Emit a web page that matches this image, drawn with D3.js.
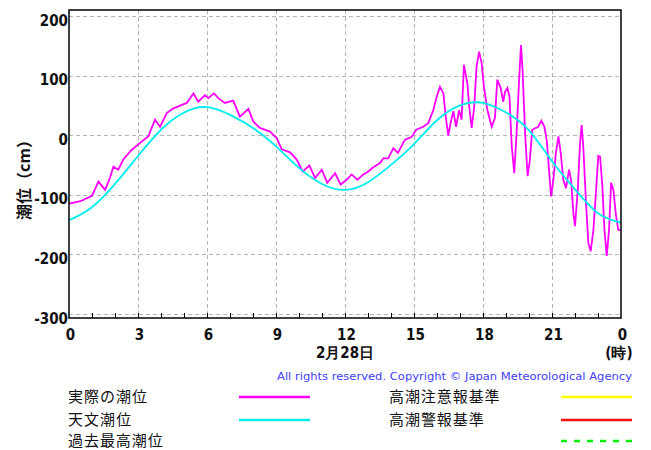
<!DOCTYPE html>
<html>
<head>
<meta charset="utf-8">
<script src="https://cdn.jsdelivr.net/npm/d3@7"></script>
<style>
body { margin: 0; background: #fff; }
.num { font-family: "DejaVu Sans Condensed", "Liberation Sans Narrow", "DejaVu Sans", sans-serif; font-weight: bold; font-size: 15px; fill: #111; }
.jp { font-family: "Noto Sans CJK JP", sans-serif; fill: #111; }
</style>
</head>
<body>
<svg width="651" height="450"></svg>
<script>
// astronomical tide (天文潮位), hourly
const tideHour = [0,1,2,3,4,5,6,7,8,9,10,11,12,13,14,15,16,17,18,19,20,21,22,23,24];
const tideLevel = [-143,-121,-82,-35,9,38,47,34,12,-19,-55,-82,-92,-79,-50,-15,25,50,54,38,8,-44,-91,-131,-147];

const obsHour = [0,0.5,1,1.28,1.57,1.78,1.93,2.14,2.36,2.72,3.09,3.45,3.74,3.96,4.25,4.54,5.12,5.41,5.62,5.91,6.06,6.3,6.49,6.78,7.14,7.43,7.8,8.01,8.3,8.74,9.03,9.25,9.61,9.9,10.16,10.45,10.7,10.99,11.23,11.57,11.81,12.07,12.29,12.54,12.8,13.01,13.23,13.52,13.67,13.88,14.1,14.3,14.6,14.9,15.1,15.4,15.62,15.84,15.99,16.13,16.28,16.38,16.49,16.59,16.71,16.83,16.96,17.07,17.17,17.32,17.4,17.51,17.62,17.72,17.83,17.94,18.04,18.19,18.38,18.52,18.62,18.77,18.88,18.96,19.06,19.15,19.25,19.36,19.46,19.57,19.65,19.72,19.83,19.94,20.04,20.14,20.25,20.4,20.54,20.67,20.77,20.87,20.96,21.06,21.17,21.28,21.38,21.49,21.61,21.74,21.83,21.93,22,22.12,22.22,22.29,22.36,22.48,22.58,22.68,22.8,22.9,23.01,23.09,23.19,23.28,23.38,23.48,23.57,23.67,23.77,23.88,24];
const obsLevel = [-115,-111,-102,-78,-92,-72,-53,-58,-41,-25,-13,-2,26,14,37,45,54,70,56,67,62,70,62,54,58,31,44,23,12,6,-5,-24,-29,-41,-61,-51,-72,-58,-80,-64,-83,-75,-66,-75,-66,-61,-54,-47,-39,-39,-22,-30,-8,-3,9,14,20,42,65,81,70,31,-1,20,40,14,42,26,118,87,48,12,48,115,140,121,81,42,14,29,93,79,56,73,79,65,-19,-64,3,93,151,109,3,-69,-41,9,11,14,24,14,-8,-58,-103,-75,-30,-2,-30,-75,-89,-58,-75,-131,-153,-92,-13,17,-19,-114,-181,-195,-159,-103,-35,-36,-86,-159,-203,-159,-80,-92,-131,-159,-160];

const yTicks = [-300,-200,-100,0,100,200];
const xTicks = [0,3,6,9,12,15,18,21,24];
const xLabels = ['0','3','6','9','12','15','18','21','0'];

const legendNames = ['実際の潮位','天文潮位','過去最高潮位','高潮注意報基準','高潮警報基準',''];
const legendColors = ['#ff00ff','#00eeee',null,'#ffff00','#ff1010','#00ee00'];

const svg = d3.select('svg');
const x = d3.scaleLinear().domain([0, 24]).range([69, 621]);
const y = d3.scaleLinear().domain([-307, 210]).range([318, 10]);

// dashed grid
const grid = svg.append('g').attr('stroke', '#b4b4b4').attr('stroke-dasharray', '4,3').attr('stroke-width', 1);
grid.selectAll('line.h').data(yTicks).enter().append('line').attr('class', 'h')
    .attr('x1', x(0)).attr('x2', x(24))
    .attr('y1', d => Math.round(y(d)) + 0.5).attr('y2', d => Math.round(y(d)) + 0.5);
grid.selectAll('line.v').data(xTicks.slice(1, -1)).enter().append('line').attr('class', 'v')
    .attr('x1', d => Math.round(x(d)) + 0.5).attr('x2', d => Math.round(x(d)) + 0.5)
    .attr('y1', y.range()[1]).attr('y2', y.range()[0]);

// hourly minor ticks on the bottom edge
svg.append('g').attr('stroke', '#000').selectAll('line').data(d3.range(1, 24)).enter().append('line')
    .attr('x1', d => Math.round(x(d)) + 0.5).attr('x2', d => Math.round(x(d)) + 0.5)
    .attr('y1', 318).attr('y2', 313);

// curves
svg.append('clipPath').attr('id', 'plot').append('rect')
    .attr('x', 69).attr('y', 10).attr('width', 552).attr('height', 308);

const obsLine = d3.line().x((d, i) => x(obsHour[i])).y(d => y(d));
svg.append('path').datum(obsLevel)
    .attr('clip-path', 'url(#plot)')
    .attr('fill', 'none').attr('stroke', '#ff00ff').attr('stroke-width', 1.8)
    .attr('d', obsLine);

const tideLine = d3.line().x((d, i) => x(tideHour[i])).y(d => y(d)).curve(d3.curveNatural);
svg.append('path').datum(tideLevel)
    .attr('clip-path', 'url(#plot)')
    .attr('fill', 'none').attr('stroke', '#00eeee').attr('stroke-width', 1.8)
    .attr('d', tideLine);

// frame
svg.append('rect').attr('x', 69).attr('y', 10).attr('width', 552).attr('height', 308)
    .attr('fill', 'none').attr('stroke', '#000').attr('stroke-width', 1.5);

// axes
svg.append('g').attr('transform', 'translate(69,0)')
    .call(d3.axisLeft(y).tickValues(yTicks).tickSize(0).tickPadding(1).tickFormat(d => String(d)))
    .call(g => g.select('.domain').remove())
    .call(g => g.selectAll('text').attr('class', 'num').attr('dy', '0.62em'));

svg.append('g').attr('transform', 'translate(0,318)')
    .call(d3.axisBottom(x).tickValues(xTicks).tickSize(0).tickPadding(11).tickFormat((d, i) => xLabels[i]))
    .call(g => g.select('.domain').remove())
    .call(g => g.selectAll('text').attr('class', 'num').attr('dx', 1));

svg.append('text').attr('class', 'num').attr('x', x(12)).attr('y', 358)
    .attr('text-anchor', 'middle').text('2月28日');
svg.append('text').attr('class', 'num').attr('x', 619).attr('y', 358)
    .attr('text-anchor', 'middle').text('(時)');

svg.append('text').attr('class', 'jp')
    .attr('transform', 'translate(30,176) rotate(-90)')
    .attr('text-anchor', 'middle').attr('font-size', 16).attr('font-weight', 'bold')
    .text('潮位（cm）');

svg.append('text').attr('x', 632).attr('y', 380).attr('text-anchor', 'end')
    .attr('font-family', 'DejaVu Sans, sans-serif').attr('font-size', 10).attr('fill', '#4040ff')
    .attr('textLength', 355).attr('lengthAdjust', 'spacingAndGlyphs')
    .text('All rights reserved. Copyright © Japan Meteorological Agency');

// legend
const rowY = [397, 420, 441];
const legend = svg.append('g').selectAll('g').data(d3.range(legendNames.length)).enter().append('g')
    .attr('transform', i => `translate(${i < 3 ? 68 : 389},${rowY[i % 3]})`);
legend.append('text').attr('class', 'jp').attr('font-size', 15).attr('dy', '0.33em')
    .attr('textLength', i => legendNames[i].length * 15.8).attr('lengthAdjust', 'spacing')
    .text(i => legendNames[i]);
legend.filter(i => legendColors[i] !== null).append('line')
    .attr('x1', i => i < 3 ? 171 : 172).attr('x2', i => i < 3 ? 242 : 243)
    .attr('y1', 0).attr('y2', 0)
    .attr('stroke', i => legendColors[i]).attr('stroke-width', 2.5)
    .attr('stroke-dasharray', i => i === 5 ? '6,7' : null);
</script>
</body>
</html>
